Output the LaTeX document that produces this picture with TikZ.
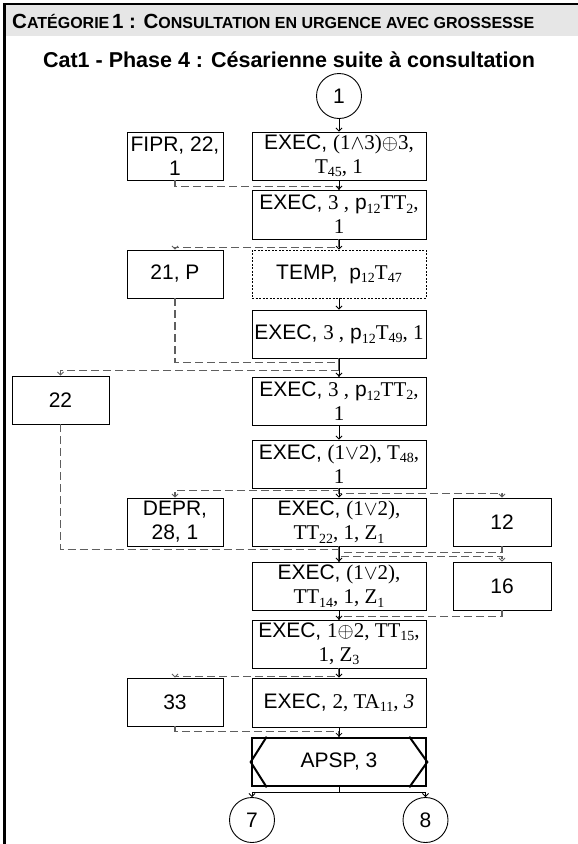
\documentclass[tikz,border=0pt]{standalone}
\usepackage{fontspec}
\setmainfont{Liberation Sans}
\newfontfamily\tmsf{Liberation Serif}
\usetikzlibrary{arrows.meta,calc}
\newcommand\tm[1]{{\tmsf #1}}
\newcommand\sbs[1]{\raisebox{-0.35ex}{\fontsize{14}{14}\selectfont\tmsf #1}}
\newcommand\hb[1]{{\fontsize{20.5}{20.5}\selectfont #1}}
\newcommand\hs[1]{{\fontsize{16}{16}\selectfont #1}}
\definecolor{hdrgray}{RGB}{230,230,230}
\definecolor{dgray}{RGB}{95,95,95}
\begin{document}
\begin{tikzpicture}[x=1pt,y=1pt,
  box/.style={draw, line width=0.9pt, minimum width=174pt, minimum height=48pt, inner sep=0pt, align=center, font=\fontsize{21}{24}\selectfont},
  lbox/.style={box, minimum width=96pt},
  rbox/.style={box, minimum width=98pt},
  circ/.style={circle, draw, line width=0.9pt, minimum size=45pt, inner sep=0pt, font=\fontsize{21}{21}\selectfont},
  sol/.style={line width=0.8pt, -{Straight Barb[length=3pt,width=6pt]}},
  dl/.style={draw=dgray, line width=1.3pt, dash pattern=on 8pt off 4pt},
  dla/.style={dl, -{Straight Barb[length=3pt,width=6pt,line width=0.8pt]}}]
\useasboundingbox (0,0) rectangle (578,-844);
% frame
\fill[hdrgray] (4,-5) rectangle (578,-36);
\draw[line width=1.5pt] (3,-4) -- (578,-4);
\draw[line width=2.5pt] (4.5,-3) -- (4.5,-844);
\node[anchor=west, font=\bfseries, inner sep=0pt] (hdr) at (12,-21)
  {\hb{C}\hs{ATÉGORIE} \hb{1 : C}\hs{ONSULTATION EN URGENCE AVEC GROSSESSE}};
\node[font=\bfseries\fontsize{21.5}{21.5}\selectfont, inner sep=0pt] (title) at (289,-60)
  {Cat1 - Phase 4 : Césarienne suite à consultation};
% main column
\node[circ] (c1) at (339,-96) {1};
\node[box] (B1) at (339,-156) {EXEC, \tm{(1$\wedge$3)$\oplus$3,}\\\tm{T\sbs{45}, 1}};
\node[box, minimum height=49pt] (B2) at (339,-214.5) {EXEC, \tm{3 ,} p\sbs{12}\tm{TT\sbs{2},}\\\tm{1}};
\node[box, line width=0.8pt, dash pattern=on 2pt off 1.5pt] (TEMP) at (339,-274) {TEMP,\ \ p\sbs{12}\tm{T\sbs{47}}};
\node[box] (B3) at (339,-334) {EXEC, \tm{3 ,} p\sbs{12}\tm{T\sbs{49}, 1}};
\node[box] (B4) at (339,-401) {EXEC, \tm{3 ,} p\sbs{12}\tm{TT\sbs{2},}\\\tm{1}};
\node[box] (B5) at (339,-464) {EXEC, \tm{(1$\vee$2), T\sbs{48},}\\\tm{1}};
\node[box] (B6) at (339,-522) {EXEC, \tm{(1$\vee$2),}\\\tm{TT\sbs{22}, 1, Z\sbs{1}}};
\node[box] (B7) at (339,-586) {EXEC, \tm{(1$\vee$2),}\\\tm{TT\sbs{14}, 1, Z\sbs{1}}};
\node[box] (B8) at (339,-644) {EXEC, \tm{1$\oplus$2, TT\sbs{15},}\\\tm{1, Z\sbs{3}}};
\node[box, minimum height=49pt] (B9) at (339,-702.5) {EXEC, \tm{2, TA\sbs{11}, \itshape 3}};
\node[box, line width=2.6pt] (APSP) at (339,-762) {APSP, 3};
\draw[line width=2pt] ($(APSP.north west)+(16,0)$) -- (APSP.west) -- ($(APSP.south west)+(16,0)$);
\draw[line width=2pt] ($(APSP.north east)+(-18,0)$) -- (APSP.east) -- ($(APSP.south east)+(-18,0)$);
\node[circ] (c7) at (252,-820) {7};
\node[circ] (c8) at (425.5,-820) {8};
% side boxes
\node[lbox] (FIPR) at (175,-156) {FIPR, 22,\\1};
\node[lbox] (P21) at (175,-274) {21, P};
\node[box, minimum width=97pt] (n22) at (60.5,-400) {22};
\node[lbox] (DEPR) at (175,-522) {DEPR,\\28, 1};
\node[lbox] (n33) at (175,-702) {33};
\node[rbox] (n12) at (502,-522) {12};
\node[rbox] (n16) at (502,-586) {16};
% dashed connectors
\draw[dl] (FIPR.south) -- ++(0,-6) -| (B2.north);
\draw[dla] (B2.south) -- ++(0,-8) -| (P21.north);
\draw[dl] (P21.south) -- ++(0,-64) -| (B4.north);
\draw[dla] (B3.south) -- ++(0,-12) -| (n22.north);
\draw[dl] (n22.south) -- ++(0,-125) -| (B7.north);
\draw[dla] (B5.south) -- ++(0,-2) -| (DEPR.north);
\draw[dla] (B5.south) -- ++(0,-5) -| (n12.north);
\draw[dl] (n12.south) -- ++(0,-6) -| (B7.north);
\draw[dla] (B6.south) -- ++(0,-10) -| (n16.north);
\draw[dl] (n16.south) -- ++(0,-6) -| (B8.north);
\draw[dla] (B8.south) -- ++(0,-8) -| (n33.north);
\draw[dl] (n33.south) -- ++(0,-5) -| (APSP.north);
% solid connectors
\draw[sol] (c1) -- (B1);
\draw[sol] (B1) -- (B2);
\draw[sol] (B2) -- (TEMP);
\draw[sol] (TEMP) -- (B3);
\draw[sol] (B3) -- (B4);
\draw[sol] (B4) -- (B5);
\draw[sol] (B5) -- (B6);
\draw[sol] (B6) -- (B7);
\draw[sol] (B7) -- (B8);
\draw[sol] (B8) -- (B9);
\draw[sol] (B9) -- (APSP);
\draw[sol] (APSP.south) -- ++(0,-5) -| (c7.north);
\draw[sol] (APSP.south) -- ++(0,-5) -| (c8.north);
\end{tikzpicture}
\end{document}
